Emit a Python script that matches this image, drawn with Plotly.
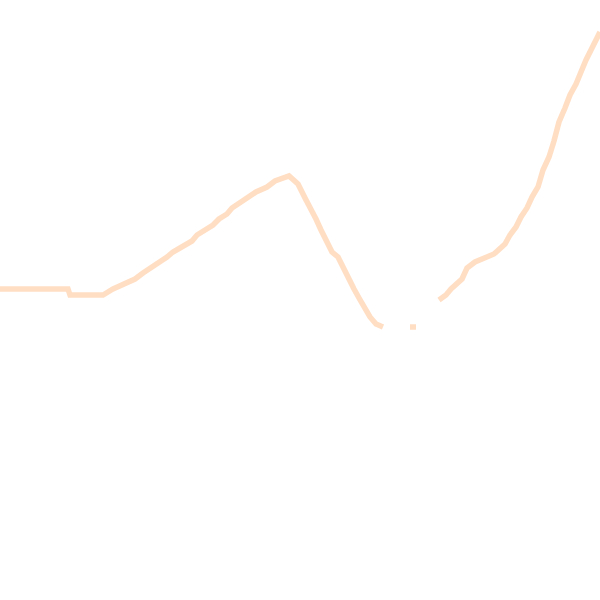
import plotly.graph_objects as go

# values (x across, y up, both on a 0-600 scale)
# None marks the places where the reference curve breaks off
x_vals = [0, 68, 70, 103, 113, 124, 135, 143, 151, 160, 167, 173, 183, 192, 197,
          205, 213, 219, 227, 232, 240, 248, 256, 267, 275, 289, 298, 305, 311,
          316, 321, 327, 332, 338, 343, 348, 354, 359, 365, 370, 376, 383, None,
          410, 416, None, 439, 446, 451, 456, 462, 467, 475, 494, 500, 505, 510,
          516, 521, 527, 532, 538, 543, 549, 554, 559, 565, 570, 576, 581, 586,
          592, 597, 600]
y_vals = [311, 311, 305, 305, 311, 316, 321, 327, 332, 338, 343, 348, 354, 359, 365,
          370, 375, 381, 386, 392, 397, 402, 408, 413, 419, 424, 416, 402, 392,
          381, 370, 359, 348, 343, 332, 321, 311, 302, 291, 283, 276, 273, None,
          273, 273, None, 300, 305, 311, 316, 321, 332, 338, 346, 351, 356, 365,
          373, 383, 392, 403, 413, 430, 443, 459, 478, 492, 505, 516, 529, 540,
          552, 562, 568]

line_color = "rgb(255,222,196)"

fig = go.Figure(
    data=[go.Scatter(x=x_vals, y=y_vals, mode="lines", connectgaps=False,
                     line=dict(color=line_color, width=5.5),
                     hoverinfo="skip")]
)

fig.update_layout(
    width=600, height=600,
    margin=dict(l=0, r=0, t=0, b=0),
    paper_bgcolor="white", plot_bgcolor="white",
    showlegend=False,
    xaxis=dict(range=[0, 600], visible=False, fixedrange=True),
    yaxis=dict(range=[0, 600], visible=False, fixedrange=True),
)

# drop the page's default body margin so the figure fills the window
fig.write_html("out.html", config={"displayModeBar": False},
               post_script="document.body.style.margin='0';"
                           "document.body.style.overflow='hidden';")
